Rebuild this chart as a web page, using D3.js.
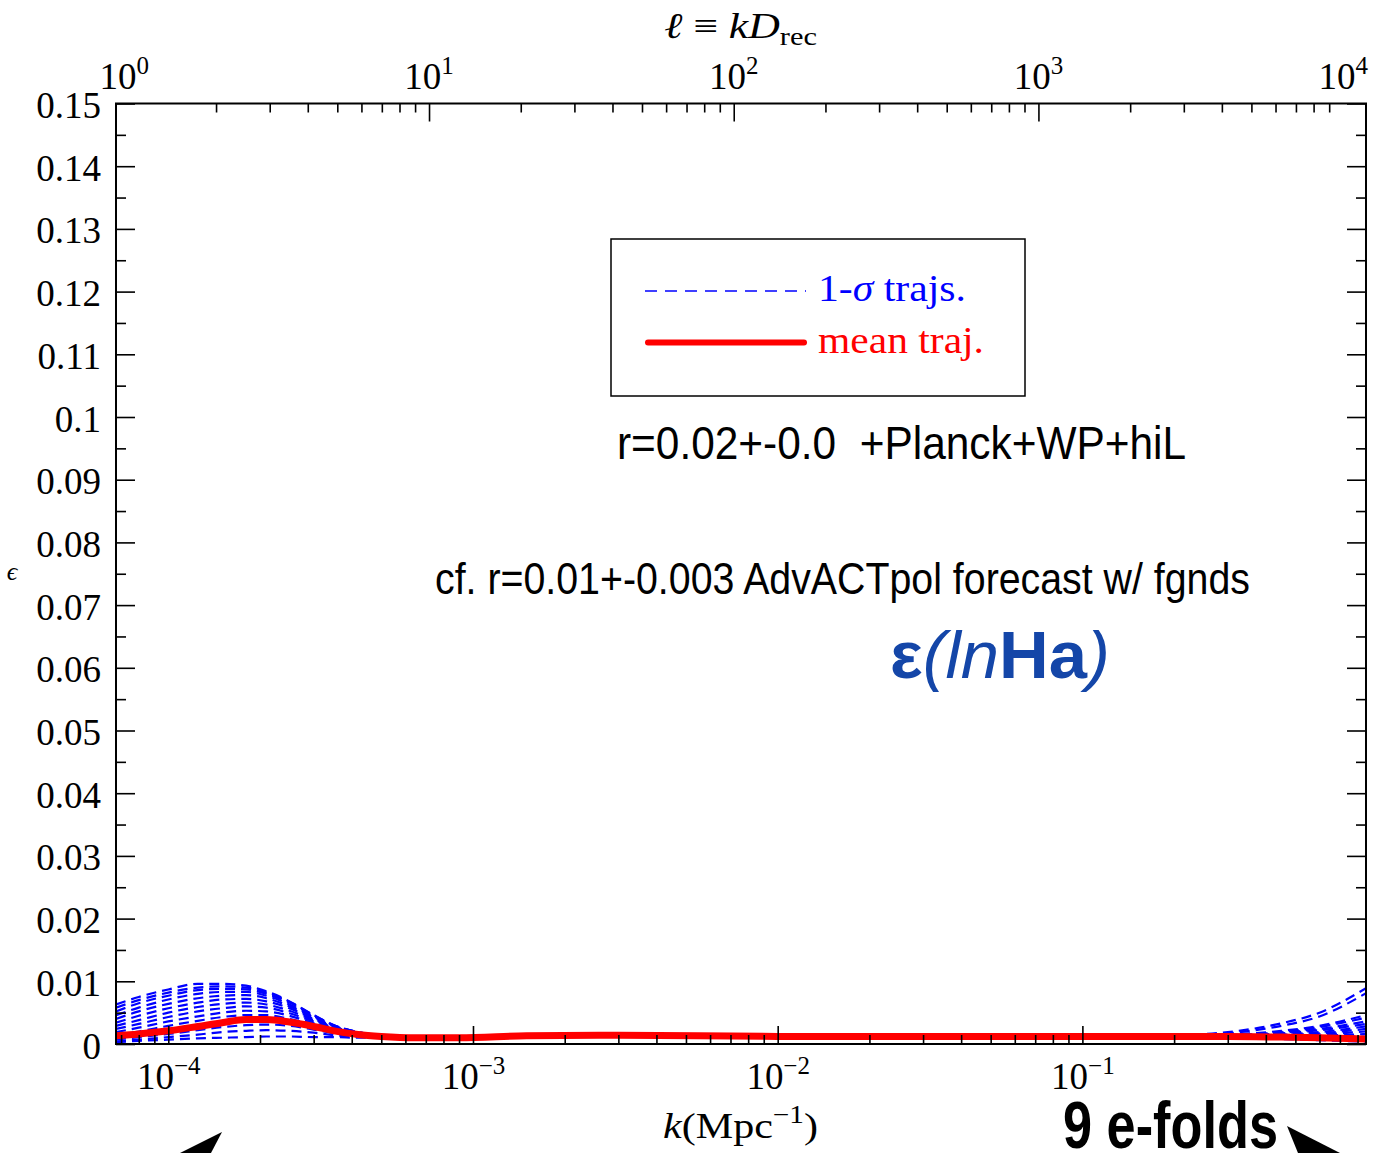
<!DOCTYPE html>
<html><head><meta charset="utf-8">
<script src="https://cdn.jsdelivr.net/npm/d3@7"></script>
<style>body{margin:0;background:#fff}</style>
</head><body>
<svg id="chart" width="1373" height="1153"></svg>
<script>
// ---------------- DATA ----------------
const kGrid = [6.736e-5, 8e-5, 1e-4, 1.25e-4, 1.5e-4, 1.8e-4, 2.1e-4, 2.5e-4, 3e-4, 3.5e-4, 4.2e-4, 5e-4, 6.5e-4, 9e-4,
               1.5e-3, 3e-3, 1e-2, 3e-2, 0.1, 0.2, 0.3, 0.45, 0.6, 0.8527];
const meanTraj = [0.0013,0.0016,0.0021,0.0028,0.0034,0.0039,0.0039,0.0035,0.0028,0.0021,0.0015,0.0012,0.0010,0.0010,
                  0.0013,0.0014,0.0012,0.0012,0.0012,0.0012,0.0012,0.0011,0.0010,0.0008];
const traj01 = [0.0063,0.0075,0.0087,0.0096,0.0096,0.0093,0.0084,0.0068,0.0046,0.0030,0.0019,0.0014,0.0012,0.0011, 0.0012,0.0013,0.0012,0.0012,0.0012,0.0014,0.0019,0.0033,0.0050,0.0089];
const traj02 = [0.0058,0.0070,0.0082,0.0090,0.0092,0.0090,0.0082,0.0067,0.0046,0.0030,0.0019,0.0014,0.0012,0.0011, 0.0012,0.0013,0.0012,0.0012,0.0012,0.0013,0.0017,0.0029,0.0044,0.0081];
const traj03 = [0.0052,0.0065,0.0077,0.0086,0.0088,0.0087,0.0080,0.0066,0.0045,0.0029,0.0019,0.0014,0.0012,0.0011, 0.0012,0.0013,0.0012,0.0012,0.0012,0.0012,0.0015,0.0021,0.0029,0.0046];
const traj04 = [0.0046,0.0058,0.0071,0.0080,0.0083,0.0083,0.0077,0.0063,0.0044,0.0029,0.0018,0.0014,0.0012,0.0011, 0.0012,0.0013,0.0012,0.0012,0.0012,0.0012,0.0014,0.0019,0.0027,0.0042];
const traj05 = [0.0040,0.0052,0.0064,0.0073,0.0077,0.0078,0.0073,0.0060,0.0042,0.0028,0.0018,0.0013,0.0011,0.0010, 0.0012,0.0013,0.0012,0.0012,0.0012,0.0012,0.0014,0.0018,0.0024,0.0036];
const traj06 = [0.0034,0.0045,0.0057,0.0066,0.0071,0.0072,0.0068,0.0057,0.0040,0.0027,0.0018,0.0013,0.0011,0.0010, 0.0011,0.0013,0.0012,0.0012,0.0012,0.0012,0.0013,0.0017,0.0022,0.0032];
const traj07 = [0.0029,0.0038,0.0050,0.0059,0.0064,0.0066,0.0063,0.0053,0.0038,0.0026,0.0017,0.0013,0.0011,0.0010, 0.0011,0.0013,0.0012,0.0012,0.0012,0.0012,0.0013,0.0015,0.0019,0.0028];
const traj08 = [0.0024,0.0032,0.0043,0.0052,0.0057,0.0060,0.0058,0.0049,0.0036,0.0025,0.0017,0.0013,0.0011,0.0010, 0.0011,0.0013,0.0012,0.0012,0.0012,0.0012,0.0012,0.0014,0.0017,0.0024];
const traj09 = [0.0019,0.0026,0.0036,0.0044,0.0050,0.0053,0.0052,0.0045,0.0033,0.0023,0.0016,0.0012,0.0011,0.0010, 0.0011,0.0013,0.0012,0.0012,0.0012,0.0012,0.0012,0.0013,0.0015,0.0020];
const traj10 = [0.0014,0.0020,0.0029,0.0037,0.0043,0.0046,0.0046,0.0040,0.0030,0.0022,0.0015,0.0012,0.0010,0.0010, 0.0011,0.0012,0.0012,0.0012,0.0012,0.0011,0.0011,0.0012,0.0013,0.0016];
const traj11 = [0.0010,0.0015,0.0022,0.0029,0.0035,0.0038,0.0039,0.0035,0.0027,0.0020,0.0014,0.0012,0.0010,0.0010, 0.0011,0.0012,0.0012,0.0012,0.0012,0.0011,0.0011,0.0011,0.0011,0.0012];
const traj12 = [0.0007,0.0011,0.0016,0.0022,0.0027,0.0030,0.0031,0.0029,0.0023,0.0017,0.0013,0.0011,0.0010,0.0010, 0.0011,0.0012,0.0012,0.0012,0.0011,0.0011,0.0010,0.0010,0.0009,0.0009];
const traj13 = [0.0004,0.0007,0.0011,0.0015,0.0019,0.0021,0.0022,0.0021,0.0018,0.0014,0.0012,0.0010,0.0010,0.0010, 0.0011,0.0012,0.0012,0.0011,0.0011,0.0010,0.0010,0.0009,0.0008,0.0006];
const traj14 = [0.0003,0.0005,0.0007,0.0009,0.0010,0.0011,0.0012,0.0012,0.0011,0.0011,0.0010,0.0010,0.0010,0.0010, 0.0011,0.0012,0.0011,0.0011,0.0011,0.0010,0.0009,0.0008,0.0006,0.0004];
const sigmaTrajs = [traj01,traj02,traj03,traj04,traj05,traj06,traj07,traj08,traj09,traj10,traj11,traj12,traj13,traj14];

const yTicks = [0,0.01,0.02,0.03,0.04,0.05,0.06,0.07,0.08,0.09,0.10,0.11,0.12,0.13,0.14,0.15];
const yTickLabels = ["0","0.01","0.02","0.03","0.04","0.05","0.06","0.07","0.08","0.09","0.1","0.11","0.12","0.13","0.14","0.15"];
const yMinorTicks = [0.005,0.015,0.025,0.035,0.045,0.055,0.065,0.075,0.085,0.095,0.105,0.115,0.125,0.135,0.145];
const kMajor = [1e-4,1e-3,1e-2,1e-1];
const kMajorExp = ["\u22124","\u22123","\u22122","\u22121"];
const kMinor = [7e-5,8e-5,9e-5,2e-4,3e-4,4e-4,5e-4,6e-4,7e-4,8e-4,9e-4,2e-3,3e-3,4e-3,5e-3,6e-3,7e-3,8e-3,9e-3,
                2e-2,3e-2,4e-2,5e-2,6e-2,7e-2,8e-2,9e-2,0.2,0.3,0.4,0.5,0.6,0.7,0.8];
const lMajorTicks = [10,100,1000];
const lLabels = [1,10,100,1000,10000];
const lLabelExp = ["0","1","2","3","4"];
const lMinor = [2,3,4,5,6,7,8,9,20,30,40,50,60,70,80,90,200,300,400,500,600,700,800,900,
                2000,3000,4000,5000,6000,7000,8000,9000];
const D_REC = 13940; // Mpc, l = k * D_rec
const kDomain = [6.736e-5, 0.8527];

// ---------------- LAYOUT ----------------
const L = 116, R = 1366, T = 103.5, B = 1044;
const serif = "'Liberation Serif','Times New Roman',serif";
const sans = "'Liberation Sans',Arial,Helvetica,sans-serif";

const svg = d3.select("#chart");
svg.append("rect").attr("width",1373).attr("height",1153).attr("fill","#fff");

const x = d3.scaleLog().domain(kDomain).range([L,R]);
const xl = d3.scaleLog().domain(kDomain.map(k=>k*D_REC)).range([L,R]);
const y = d3.scaleLinear().domain([0,0.15]).range([B,T]);

svg.append("clipPath").attr("id","clip").append("rect")
  .attr("x",L).attr("y",T).attr("width",R-L).attr("height",B-T);

const line = d3.line().x((d,i)=>x(kGrid[i])).y(d=>y(d)).curve(d3.curveMonotoneX);

const gPlot = svg.append("g").attr("clip-path","url(#clip)");
gPlot.selectAll("path.sig").data(sigmaTrajs).join("path")
  .attr("class","sig").attr("d",line)
  .attr("fill","none").attr("stroke","#0000ff").attr("stroke-width",2.2)
  .attr("stroke-dasharray","10,6");
gPlot.append("path").datum(meanTraj).attr("d",line)
  .attr("fill","none").attr("stroke","#ff0000").attr("stroke-width",7)
  .attr("stroke-linejoin","round");

// ---------------- AXES ----------------
function styleAxis(g){
  g.select(".domain").remove();
  g.selectAll(".tick line").attr("stroke","#000").attr("stroke-width",1.6);
}
// bottom
svg.append("g").attr("transform",`translate(0,${B})`)
  .call(d3.axisBottom(x).tickValues(kMinor).tickSize(-9).tickSizeOuter(0).tickFormat(""))
  .call(styleAxis);
const gxb = svg.append("g").attr("transform",`translate(0,${B})`)
  .call(d3.axisBottom(x).tickValues(kMajor).tickSize(-18).tickSizeOuter(0).tickFormat(""))
  .call(styleAxis);
gxb.selectAll(".tick text").remove();
gxb.selectAll(".tick").append("text")
  .attr("y",45).attr("text-anchor","middle").attr("fill","#000")
  .attr("font-family",serif).attr("font-size",37)
  .each(function(d,i){
    const t=d3.select(this);
    t.append("tspan").text("10");
    t.append("tspan").attr("dy",-15).attr("font-size",25).text(kMajorExp[i]);
  });
// top
svg.append("g").attr("transform",`translate(0,${T})`)
  .call(d3.axisTop(xl).tickValues(lMinor).tickSize(-9).tickSizeOuter(0).tickFormat(""))
  .call(styleAxis);
svg.append("g").attr("transform",`translate(0,${T})`)
  .call(d3.axisTop(xl).tickValues(lMajorTicks).tickSize(-18).tickSizeOuter(0).tickFormat(""))
  .call(styleAxis);
svg.append("g").selectAll("text").data(lLabels).join("text")
  .attr("x",d=>xl(d)).attr("y",89).attr("text-anchor","middle").attr("fill","#000")
  .attr("font-family",serif).attr("font-size",37)
  .each(function(d,i){
    const t=d3.select(this);
    t.append("tspan").text("10");
    t.append("tspan").attr("dy",-15).attr("font-size",25).text(lLabelExp[i]);
  });
// left
const gyl = svg.append("g").attr("transform",`translate(${L},0)`)
  .call(d3.axisLeft(y).tickValues(yTicks).tickSize(-19).tickSizeOuter(0).tickPadding(15)
        .tickFormat((d,i)=>yTickLabels[i]))
  .call(styleAxis);
gyl.selectAll(".tick text").attr("font-family",serif).attr("font-size",37).attr("fill","#000").attr("dy","0.38em");
svg.append("g").attr("transform",`translate(${L},0)`)
  .call(d3.axisLeft(y).tickValues(yMinorTicks).tickSize(-10).tickSizeOuter(0).tickFormat(""))
  .call(styleAxis);
// right
svg.append("g").attr("transform",`translate(${R},0)`)
  .call(d3.axisRight(y).tickValues(yTicks).tickSize(-19).tickSizeOuter(0).tickFormat(""))
  .call(styleAxis);
svg.append("g").attr("transform",`translate(${R},0)`)
  .call(d3.axisRight(y).tickValues(yMinorTicks).tickSize(-10).tickSizeOuter(0).tickFormat(""))
  .call(styleAxis);

// frame
svg.append("rect").attr("x",L).attr("y",T).attr("width",R-L).attr("height",B-T)
  .attr("fill","none").attr("stroke","#000").attr("stroke-width",2);

// axis titles
const tt = svg.append("text").attr("x",664).attr("y",38)
  .attr("font-family",serif).attr("font-size",36).attr("fill","#000")
  .attr("textLength",153).attr("lengthAdjust","spacingAndGlyphs");
tt.append("tspan").attr("font-style","italic").text("\u2113");
tt.append("tspan").text(" \u2261 ");
tt.append("tspan").attr("font-style","italic").text("kD");
tt.append("tspan").attr("font-size",25).attr("dy",7).text("rec");

const bt = svg.append("text").attr("x",663).attr("y",1138)
  .attr("font-family",serif).attr("font-size",36).attr("fill","#000")
  .attr("textLength",155).attr("lengthAdjust","spacingAndGlyphs");
bt.append("tspan").attr("font-style","italic").text("k");
bt.append("tspan").text("(Mpc");
bt.append("tspan").attr("font-size",25).attr("dy",-15).text("\u22121");
bt.append("tspan").attr("dy",15).text(")");

svg.append("text").attr("x",12).attr("y",580).attr("text-anchor","middle")
  .attr("font-family",serif).attr("font-style","italic").attr("font-size",26).text("\u03F5");

// legend
svg.append("rect").attr("x",611).attr("y",239).attr("width",414).attr("height",157)
  .attr("fill","#fff").attr("stroke","#000").attr("stroke-width",1.5);
svg.append("line").attr("x1",645).attr("x2",806).attr("y1",291).attr("y2",291)
  .attr("stroke","#0000ff").attr("stroke-width",1.7).attr("stroke-dasharray","12,8");
svg.append("line").attr("x1",648).attr("x2",804).attr("y1",342.5).attr("y2",342.5)
  .attr("stroke","#ff0000").attr("stroke-width",6).attr("stroke-linecap","round");
const lg1 = svg.append("text").attr("x",818).attr("y",301).attr("font-family",serif)
  .attr("font-size",37).attr("fill","#0000ff")
  .attr("textLength",148).attr("lengthAdjust","spacingAndGlyphs");
lg1.append("tspan").text("1-");
lg1.append("tspan").attr("font-style","italic").text("\u03C3");
lg1.append("tspan").text(" trajs.");
svg.append("text").attr("x",818).attr("y",353).attr("font-family",serif)
  .attr("font-size",37).attr("fill","#ff0000")
  .attr("textLength",166).attr("lengthAdjust","spacingAndGlyphs").text("mean traj.");

// annotations
svg.append("text").attr("x",617).attr("y",459).attr("font-family",sans).attr("font-size",46)
  .attr("fill","#000").attr("textLength",569).attr("lengthAdjust","spacingAndGlyphs")
  .attr("xml:space","preserve").style("white-space","pre")
  .text("r=0.02+-0.0  +Planck+WP+hiL");
svg.append("text").attr("x",435).attr("y",594).attr("font-family",sans).attr("font-size",44)
  .attr("fill","#000").attr("textLength",815).attr("lengthAdjust","spacingAndGlyphs")
  .text("cf. r=0.01+-0.003 AdvACTpol forecast w/ fgnds");
const eps = svg.append("text").attr("x",890).attr("y",678).attr("font-family",sans)
  .attr("font-size",67).attr("fill","#1446a8")
  .attr("textLength",220).attr("lengthAdjust","spacingAndGlyphs");
eps.append("tspan").attr("font-weight","bold").text("\u03B5");
eps.append("tspan").attr("font-style","italic").text("(ln");
eps.append("tspan").attr("font-weight","bold").text("Ha");
eps.append("tspan").attr("font-style","italic").text(")");
svg.append("text").attr("x",1063).attr("y",1148).attr("font-family",sans).attr("font-size",66)
  .attr("font-weight","bold").attr("fill","#000").attr("textLength",215)
  .attr("lengthAdjust","spacingAndGlyphs").text("9 e-folds");

// arrowheads pointing toward the 9 e-fold window edges
const arrowHeads = [
  [[222,1132],[180,1153],[211,1153]],
  [[1287,1126],[1340,1153],[1298,1153]]
];
svg.selectAll("polygon.arr").data(arrowHeads).join("polygon")
  .attr("class","arr").attr("points",d=>d.map(p=>p.join(",")).join(" ")).attr("fill","#000");
</script>
</body></html>
